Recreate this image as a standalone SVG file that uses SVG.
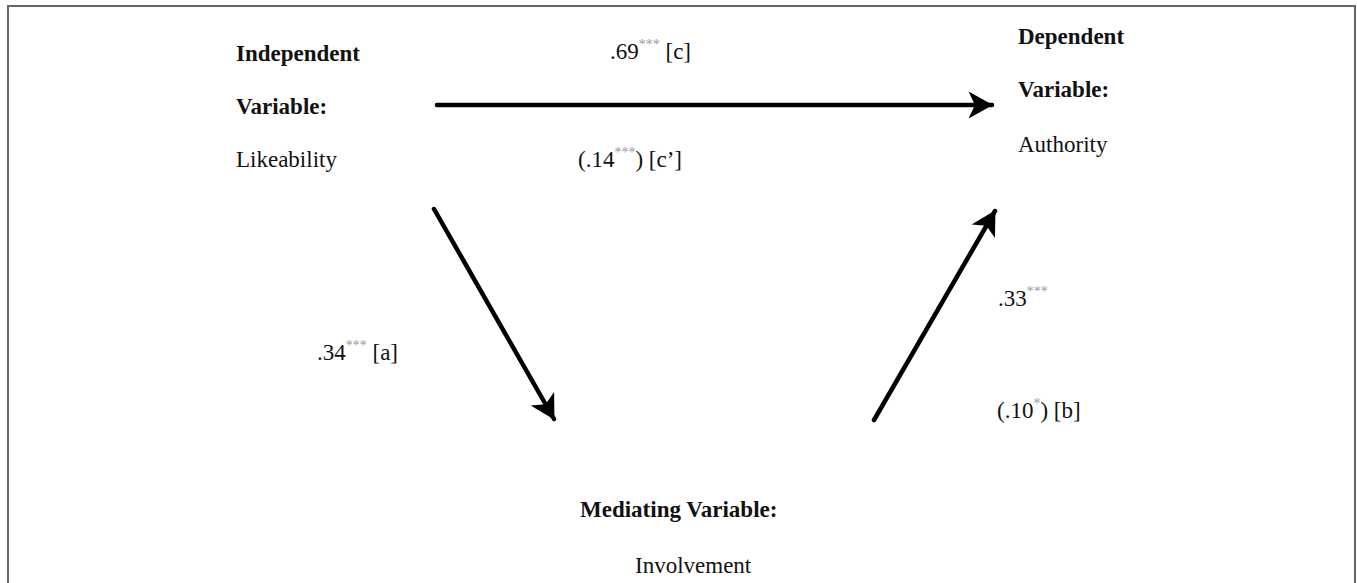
<svg xmlns="http://www.w3.org/2000/svg" width="1357" height="583" viewBox="0 0 1357 583">
<style>
text{font-family:"Liberation Serif","Times New Roman",serif;font-size:23px;fill:#111}
.b{font-weight:bold}
.sup{font-size:14px;fill:#999}
.ln{stroke:#000;stroke-width:4.5;fill:none;stroke-linecap:round}
</style>
<defs>
<marker id="ah" markerWidth="8" markerHeight="8" refX="6" refY="4" orient="auto" markerUnits="strokeWidth">
<path d="M0.8,1 L6.2,4 L0.8,7 L2.2,4 Z" fill="#000"/>
</marker>
</defs>
<rect x="8" y="6" width="1347" height="600" fill="#fff" stroke="#666" stroke-width="2"/>
<g id="connectors">
<line class="ln" x1="437" y1="105" x2="992" y2="105" marker-end="url(#ah)"/>
<line class="ln" x1="434" y1="209" x2="554" y2="419" marker-end="url(#ah)"/>
<line class="ln" x1="874" y1="420" x2="995" y2="211" marker-end="url(#ah)"/>
</g>
<g id="independent">
<text class="b" x="236" y="61">Independent</text>
<text class="b" x="236" y="114">Variable:</text>
<text x="236" y="167">Likeability</text>
</g>
<g id="dependent">
<text class="b" x="1018" y="44">Dependent</text>
<text class="b" x="1018" y="97">Variable:</text>
<text x="1018" y="152">Authority</text>
</g>
<g id="mediating">
<text class="b" x="580" y="517">Mediating Variable:</text>
<text x="635" y="573">Involvement</text>
</g>
<g id="labels">
<text x="610" y="59">.69<tspan class="sup" dy="-10">***</tspan><tspan dy="10"> [c]</tspan></text>
<text x="578" y="167">(.14<tspan class="sup" dy="-10">***</tspan><tspan dy="10">) [c’]</tspan></text>
<text x="317" y="360">.34<tspan class="sup" dy="-10">***</tspan><tspan dy="10"> [a]</tspan></text>
<text x="998" y="306">.33<tspan class="sup" dy="-10">***</tspan></text>
<text x="997" y="418">(.10<tspan class="sup" dy="-10">*</tspan><tspan dy="10">) [b]</tspan></text>
</g>
</svg>
